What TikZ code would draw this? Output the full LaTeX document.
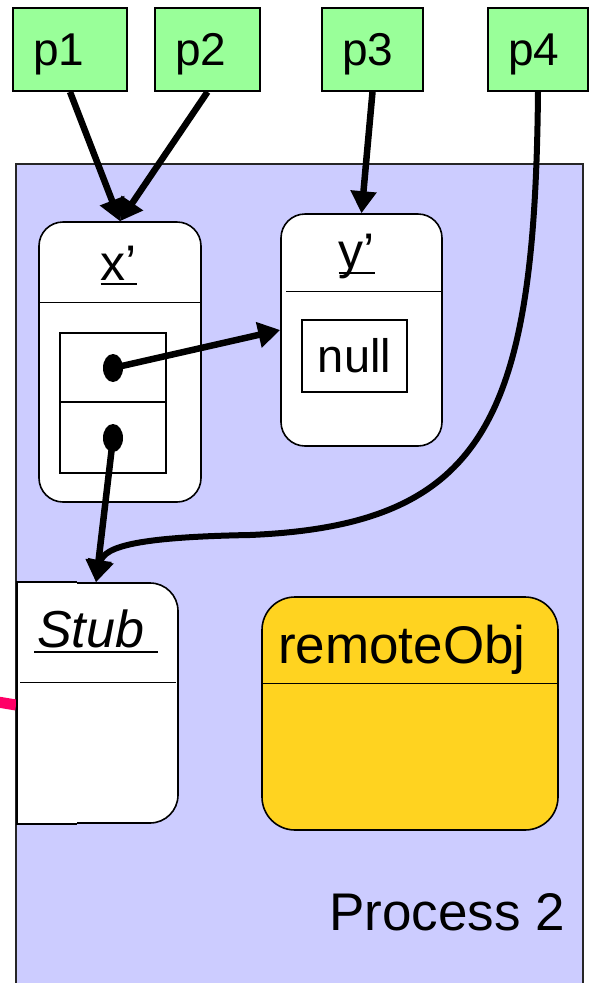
\documentclass[tikz,border=0pt]{standalone}
\usepackage{fontspec}
\setmainfont{Liberation Sans}
\usetikzlibrary{arrows.meta,shapes.geometric}
\definecolor{procfill}{HTML}{CCCCFF}
\definecolor{pfill}{HTML}{99FF99}
\definecolor{objgold}{HTML}{FFD320}
\definecolor{linkpink}{HTML}{FF0066}

\begin{document}
\begin{tikzpicture}[x=1pt,y=-1pt,
  pbox/.style={draw,line width=1.8pt,fill=pfill,minimum height=83pt,inner ysep=0pt,
    inner xsep=20pt,align=left,text height=36pt,text depth=5pt,
    font=\fontsize{46}{46}\selectfont},
  objbox/.style={draw,line width=1.6pt,fill=white,rounded corners=24pt,inner sep=0pt},
  cell/.style={draw,line width=1.4pt,fill=white,inner sep=0pt},
  sepline/.style={line width=1.4pt},
  uline/.style={line width=2pt},
  dot/.style={ellipse,fill=black,minimum width=20pt,minimum height=28pt,inner sep=0pt},
  conn/.style={line width=6.5pt,-{Triangle[length=22pt,width=25pt]}},
  lbl/.style={inner sep=0pt,font=\fontsize{50}{50}\selectfont}]
\useasboundingbox (0,0) rectangle (594,983);
\clip (0,0) rectangle (594,983);

% process frame
\node[draw=black!85,line width=1.5pt,fill=procfill,minimum width=567pt,minimum height=826pt,inner sep=0pt]
  (proc) at (299.5,577) {};
\node[lbl,anchor=base east,font=\fontsize{53}{53}\selectfont] (proclbl) at (565,930) {Process 2};

% incoming link at the left border
\coordinate (linkin) at (-2,702);
\coordinate (linkat) at (16,705);
\draw[line width=11pt,linkpink] (linkin) -- (linkat);

% references
\node[pbox,text width=74pt] (p1) at (70,49.5) {p1};
\node[pbox,text width=65pt] (p2) at (207.5,49.5) {p2};
\node[pbox,text width=61pt] (p3) at (372.5,49.5) {p3};
\node[pbox,text width=60pt] (p4) at (538,49.5) {p4};

% object x'
\node[objbox,minimum width=162pt,minimum height=280pt] (xo) at (120,362) {};
\draw[sepline] ([yshift=-81pt]xo.north west) -- ([yshift=-81pt]xo.north east);
\node[lbl,anchor=base] (xl) at (119,280) {x’};
\draw[uline] ([yshift=-4pt]xl.base west) -- ([yshift=-4pt]xl.base east);
\node[cell,minimum width=106pt,minimum height=69pt] (ca) at (113,367.5) {};
\node[cell,minimum width=106pt,minimum height=71pt] (cb) at (113,437.5) {};
\node[dot] (da) at (113,368) {};
\node[dot] (db) at (113,438) {};

% object y'
\node[objbox,minimum width=161pt,minimum height=232pt] (yo) at (361.5,330) {};
\draw[sepline] ([yshift=-78pt,xshift=6pt]yo.north west) -- ([yshift=-78pt]yo.north east);
\node[lbl,anchor=base] (yl) at (357,268) {y’};
\draw[uline] ([yshift=-5pt]yl.base west) -- ([yshift=-5pt]yl.base east);
\node[cell,minimum width=105pt,minimum height=72pt,lbl,font=\fontsize{47}{47}\selectfont] (nl) at (354.5,356) {null};

% stub
\node[objbox,rounded corners=28pt,minimum width=160pt,minimum height=240pt] (stub) at (98,703) {};
\draw[line width=1.6pt,fill=white] ([xshift=60pt]stub.north west) -- (stub.north west)
  -- (stub.south west) -- ([xshift=60pt]stub.south west);
\draw[sepline] ([yshift=-100pt,xshift=3pt]stub.north west) -- ([yshift=-100pt,xshift=-3pt]stub.north east);
\node[lbl,anchor=base west,font=\fontsize{52}{52}\selectfont\itshape] (sl) at (37,647) {Stub};
\draw[uline] ([yshift=-5pt,xshift=-3pt]sl.base west) -- ([yshift=-5pt,xshift=14pt]sl.base east);

% remote object
\node[objbox,fill=objgold,rounded corners=33pt,minimum width=296pt,minimum height=233pt] (ro) at (410,713.5) {};
\draw[sepline] ([yshift=-87pt]ro.north west) -- ([yshift=-87pt]ro.north east);
\node[lbl,anchor=base west,font=\fontsize{53}{53}\selectfont] (rl) at (278,663) {remoteObj};

% connectors
\draw[conn] (p1.south) -- (xo.north);
\draw[conn] (p2.south) -- (xo.north);
\draw[conn] (p3.south) -- (yo.north);
\draw[conn] (da.center) -- (yo.west);
\draw[conn] (db.center) -- ([xshift=-2pt]stub.north);
\draw[conn,line width=6pt] (p4.south) .. controls (535,420) and (485,525) .. (250,535)
  .. controls (140,537) and (104,546) .. ([xshift=-2pt]stub.north);
\end{tikzpicture}
\end{document}
